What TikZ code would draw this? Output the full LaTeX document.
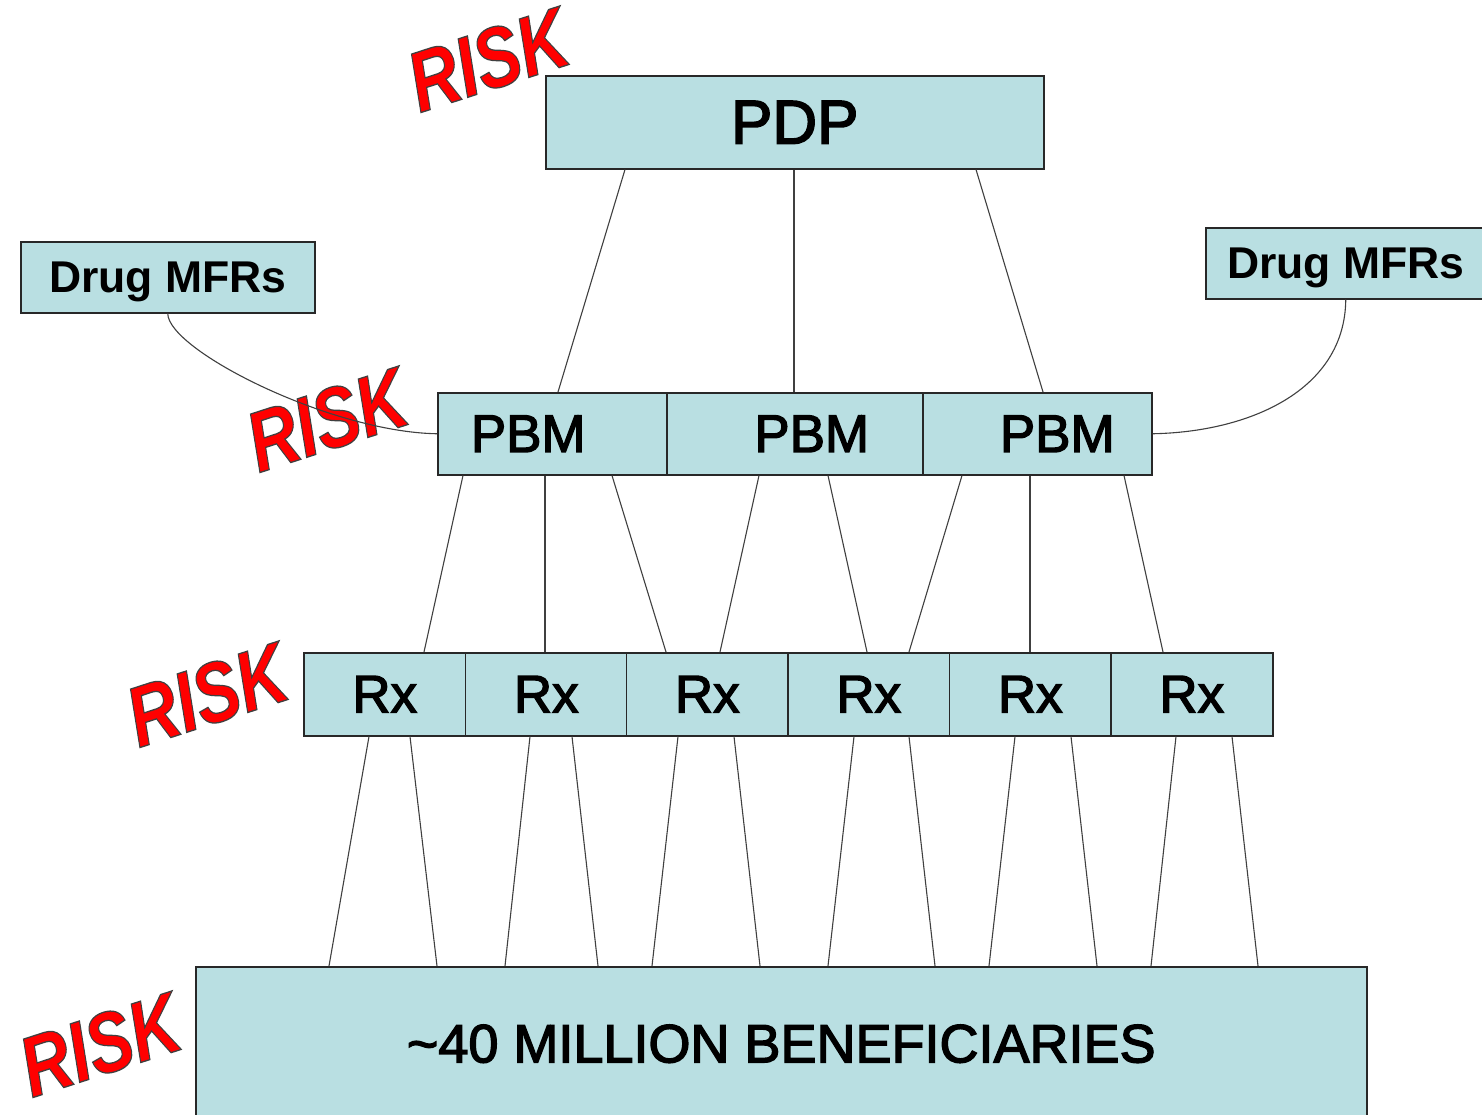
\documentclass[tikz,border=0pt]{standalone}
\usepackage{fontspec}
\setmainfont{Liberation Sans}
\newfontfamily\heavysans[FakeBold=2.5]{Liberation Sans}
\newfontfamily\riskfont[FakeBold=1.5]{Liberation Sans}
\definecolor{boxfill}{RGB}{185,223,226}
\definecolor{riskred}{RGB}{255,0,0}
\definecolor{edge}{RGB}{40,40,40}
\newcommand\outlinedtext[1]{\special{pdf:literal direct 2 Tr 0.7 w 0.25 0.25 0.25 RG}#1\special{pdf:literal direct 0 Tr}}
\begin{document}
\begin{tikzpicture}[x=0.5pt,y=-0.5pt,
  box/.style={draw=edge, line width=0.75pt, fill=boxfill, inner sep=0pt, anchor=north west},
  link/.style={draw=black!75, line width=0.55pt},
  risk/.style={font=\fontsize{34pt}{38pt}\selectfont\riskfont\bfseries\itshape, text=riskred, rotate=18, yscale=1.25, inner sep=0pt},
  big/.style={font=\fontsize{31pt}{36pt}\selectfont\heavysans},
  mid/.style={font=\fontsize{26.5pt}{30pt}\selectfont\heavysans},
  mfr/.style={font=\fontsize{22.25pt}{26pt}\selectfont\bfseries, text depth=0pt}]
\useasboundingbox (0,0) rectangle (1482,1114);
\clip (0,0) rectangle (1482,1114);
\fill[white] (0,0) rectangle (1482,1114);

% RISK labels
\node[risk] (risk1) at (488,60) {\outlinedtext{RISK}};
\node[risk] (risk2) at (327,420) {\outlinedtext{RISK}};
\node[risk] (risk3) at (207,695) {\outlinedtext{RISK}};
\node[risk] (risk4) at (100,1045) {\outlinedtext{RISK}};

% boxes
\node[box, minimum width=249pt, minimum height=46.5pt, big] (pdp) at (545,75) {PDP};
\node[box, minimum width=147pt, minimum height=35.5pt, mfr] (mfrL) at (20,241) {Drug MFRs};
\node[box, minimum width=140pt, minimum height=35.5pt, mfr] (mfrR) at (1205,227) {Drug MFRs};

\node[box, minimum width=114.5pt, minimum height=41pt,
  label={[mid, xshift=-12pt]center:PBM}] (pbm1) at (437,392) {};
\node[box, minimum width=128pt, minimum height=41pt,
  label={[mid, xshift=8.5pt]center:PBM}] (pbm2) at (666,392) {};
\node[box, minimum width=114.5pt, minimum height=41pt,
  label={[mid, xshift=10pt]center:PBM}] (pbm3) at (922,392) {};

\foreach \i/\x in {1/303,2/464.5,3/625.5,4/787,5/948.5,6/1110}
  \node[box, minimum width=81pt, minimum height=41.5pt, mid] (rx\i) at (\x,652) {Rx};

\node[box, minimum width=585.5pt, minimum height=77pt, font=\fontsize{27pt}{30pt}\selectfont\heavysans] (ben) at (195,966) {\textasciitilde 40 MILLION BENEFICIARIES};

% PDP -> PBM
\draw[link] (pdp.south -| 625,0) -- (pbm1.north -| 558,0);
\draw[link] (pdp.south -| 794,0) -- (pbm2.north -| 794,0);
\draw[link] (pdp.south -| 976,0) -- (pbm3.north -| 1043,0);

% PBM -> Rx
\draw[link] (pbm1.south -| 463,0) -- (rx1.north -| 424,0);
\draw[link] (pbm1.south -| 545,0) -- (rx2.north -| 545,0);
\draw[link] (pbm1.south -| 612,0) -- (rx3.north -| 666,0);
\draw[link] (pbm2.south -| 759,0) -- (rx3.north -| 720,0);
\draw[link] (pbm2.south -| 828,0) -- (rx4.north -| 867,0);
\draw[link] (pbm3.south -| 962,0) -- (rx4.north -| 909,0);
\draw[link] (pbm3.south -| 1030,0) -- (rx5.north -| 1030,0);
\draw[link] (pbm3.south -| 1124,0) -- (rx6.north -| 1163,0);

% Rx -> beneficiaries
\draw[link] (rx1.south -| 369,0) -- (ben.north -| 329,0);
\draw[link] (rx1.south -| 410,0) -- (ben.north -| 437,0);
\draw[link] (rx2.south -| 530,0) -- (ben.north -| 505,0);
\draw[link] (rx2.south -| 572,0) -- (ben.north -| 598,0);
\draw[link] (rx3.south -| 678,0) -- (ben.north -| 652,0);
\draw[link] (rx3.south -| 734,0) -- (ben.north -| 760,0);
\draw[link] (rx4.south -| 854,0) -- (ben.north -| 828,0);
\draw[link] (rx4.south -| 909,0) -- (ben.north -| 935,0);
\draw[link] (rx5.south -| 1015,0) -- (ben.north -| 989,0);
\draw[link] (rx5.south -| 1071,0) -- (ben.north -| 1097,0);
\draw[link] (rx6.south -| 1176,0) -- (ben.north -| 1151,0);
\draw[link] (rx6.south -| 1232,0) -- (ben.north -| 1258,0);

% Drug MFRs -> PBM curves
\draw[link] (mfrL.south) .. controls (168,350) and (330,432) .. (pbm1.west);
\draw[link] (mfrR.south) .. controls (1345,390) and (1250,432) .. (pbm3.east);
\end{tikzpicture}
\end{document}
